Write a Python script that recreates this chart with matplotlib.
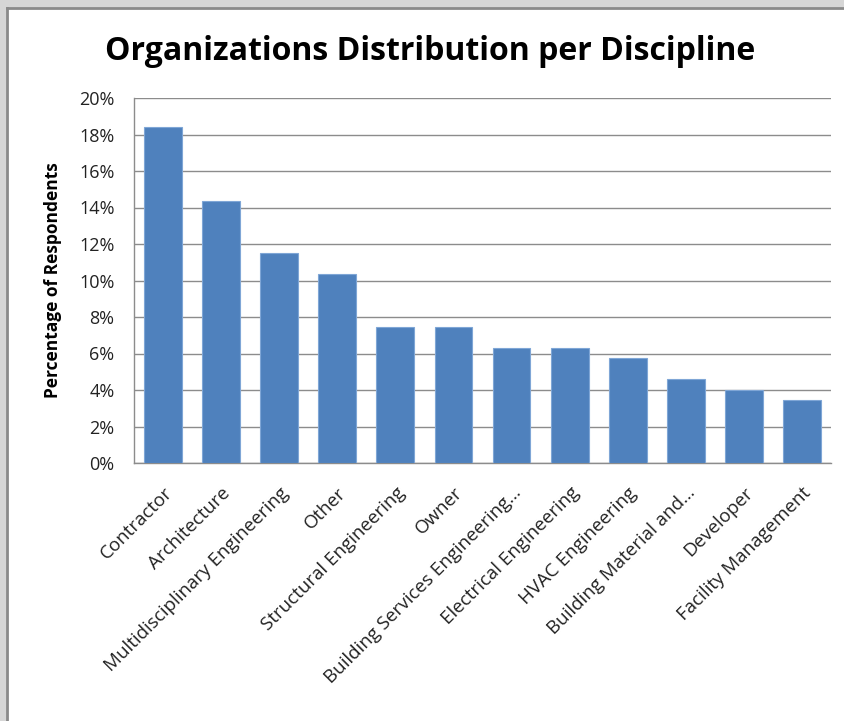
import matplotlib.pyplot as plt
from matplotlib.patches import Rectangle
from matplotlib.lines import Line2D
from matplotlib.ticker import FuncFormatter

categories = ["Contractor", "Architecture", "Multidisciplinary Engineering", "Other",
              "Structural Engineering", "Owner", "Building Services Engineering\u2026",
              "Electrical Engineering", "HVAC Engineering", "Building Material and\u2026",
              "Developer", "Facility Management"]
shares = [18.39, 14.37, 11.49, 10.34, 7.47, 7.47, 6.32, 6.32, 5.75, 4.60, 4.02, 3.45]
yticks = [0, 2, 4, 6, 8, 10, 12, 14, 16, 18, 20]

plt.rcParams['font.family'] = ['Open Sans', 'DejaVu Sans']

fig = plt.figure(figsize=(8.44, 7.21), dpi=100)
fig.patch.set_facecolor('#d6d6d6')

# white chart area with darker frame line on top/left
W, H = 844.0, 721.0
fig.patches.append(Rectangle((7 / W, -0.01), 1, 1 - 8 / H + 0.01, transform=fig.transFigure,
                             facecolor='white', edgecolor='none', zorder=-5))
fig.lines.append(Line2D([7 / W, 7 / W], [0, 1 - 8 / H], transform=fig.transFigure,
                        color='#8a8a8a', linewidth=2))
fig.lines.append(Line2D([7 / W, 1], [1 - 8 / H, 1 - 8 / H], transform=fig.transFigure,
                        color='#8a8a8a', linewidth=2))

ax = fig.add_axes([134 / W, 1 - 463 / H, (831 - 134) / W, (463 - 98) / H])
ax.set_facecolor('none')
ax.set_zorder(2)

x = range(len(categories))
ax.bar(x, shares, width=0.65, color='#4f81bd', edgecolor='#7fa6d6', linewidth=0.8, zorder=3)

ax.set_xlim(-0.5, len(categories) - 0.5)
ax.set_ylim(0, 20)
ax.set_yticks(yticks)
ax.yaxis.set_major_formatter(FuncFormatter(lambda v, p: f"{v:.0f}%"))
ax.grid(axis='y', color='#8c8c8c', linewidth=1, zorder=0)
ax.set_axisbelow(True)

for s in ['top', 'right']:
    ax.spines[s].set_visible(False)
for s in ['left', 'bottom']:
    ax.spines[s].set_color('#8c8c8c')
    ax.spines[s].set_linewidth(1)

ax.tick_params(axis='y', length=0, labelsize=13, pad=14, colors='#222222')
ax.tick_params(axis='x', length=0, labelsize=13.5, pad=15, colors='#222222')
ax.set_xticks(list(x))
ax.set_xticklabels(categories, rotation=45, ha='right', va='top', rotation_mode='anchor')

ax.set_ylabel("Percentage of Respondents", fontsize=12.5, fontweight='bold', labelpad=12)

fig.text(430 / W, 1 - 52 / H, "Organizations Distribution per Discipline",
         ha='center', va='center', fontsize=23, fontweight='bold')

fig.savefig('out.png', dpi=100, facecolor=fig.get_facecolor())
